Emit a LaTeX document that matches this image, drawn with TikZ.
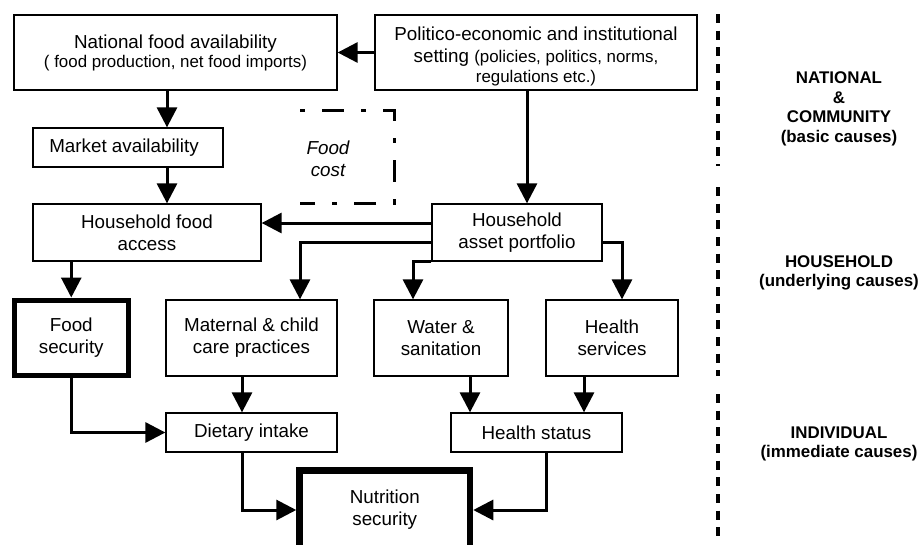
\documentclass[tikz,border=0pt]{standalone}
\usepackage{fontspec}
\setmainfont{Liberation Sans}
\usetikzlibrary{arrows.meta}

\newcommand{\mainsize}{\fontsize{18.8}{22}\selectfont}
\newcommand{\subsize}{\fontsize{16.9}{22}\selectfont}
\newcommand{\sidesize}{\fontsize{16.9}{19.5}\selectfont\bfseries}

\begin{document}
\begin{tikzpicture}[x=1pt,y=-1pt,
  box/.style={draw=black,line width=1.3pt,rectangle,inner sep=0pt,align=center,font=\mainsize},
  heavybox/.style={box,line width=5pt},
  heavierbox/.style={box,line width=6.5pt},
  arr/.style={line width=3pt,-{Triangle[length=20pt,width=20pt]}},
  levelline/.style={line width=4pt,dash pattern=on 9pt off 7.67pt},
  foodcost/.style={line width=3pt,dash pattern=on 5pt off 17pt on 22pt off 17pt},
  side/.style={align=center,font=\sidesize,inner sep=0pt}]

\useasboundingbox (0,0) rectangle (921,544);

% ---- boxes
\node[box,minimum width=323pt,minimum height=75pt] (nat) at (175.5,52.5)
  {National food availability\\[-3pt]{\subsize ( food production, net food imports)}};
\node[box,minimum width=322pt,minimum height=75pt] (pol) at (536,52.5)
  {\rule{0pt}{21pt}Politico-economic and institutional\\setting {\subsize (policies, politics, norms,}\\[-2pt]{\subsize regulations etc.)}};
\node[box,minimum width=190pt,minimum height=39pt] (mkt) at (128,147.5) {Market availability\hspace{8pt}};
\node[box,minimum width=228pt,minimum height=57pt] (hfa) at (147,232.5) {Household food\\access};
\node[box,minimum width=170pt,minimum height=57pt] (hap) at (517,232.5) {Household\\asset portfolio};
\node[heavybox,minimum width=114.5pt,minimum height=75pt] (fs) at (71.25,337.5) {Food\\security};
\node[box,minimum width=171pt,minimum height=76pt] (mcc) at (251.5,338) {Maternal \& child\\care practices};
\node[box,minimum width=134pt,minimum height=76pt] (ws) at (441,338) {Water \&\\sanitation};
\node[box,minimum width=132pt,minimum height=76pt] (hs) at (612,338) {Health\\services};
\node[box,minimum width=171pt,minimum height=39pt] (di) at (251.5,432.5) {Dietary intake};
\node[box,minimum width=171pt,minimum height=39pt] (hst) at (536.5,432.5) {Health status};
\node[heavierbox,minimum width=170.5pt,minimum height=79.5pt] (ns) at (384.75,510) {Nutrition\\security};

% ---- food cost bracket
\node[align=center,font=\mainsize\itshape,inner sep=0pt] (fc) at (328,159) {Food\\cost};
\draw[foodcost] (300,110) -- (394,110) -- (394,203) -- (300,203);

% ---- routing columns and rows
\coordinate (xa) at (167,0);
\coordinate (xb) at (527,0);
\coordinate (xc) at (300,0);
\coordinate (xd) at (413,0);
\coordinate (xe) at (622,0);
\coordinate (xf) at (242,0);
\coordinate (xg) at (470,0);
\coordinate (xh) at (584,0);
\coordinate (xi) at (546,0);
\coordinate (ya) at (0,223);
\coordinate (yb) at (0,242);

% ---- connectors
\draw[arr] (pol.west) -- (nat.east);
\draw[arr] (nat.south -| xa) -- (mkt.north -| xa);
\draw[arr] (mkt.south -| xa) -- (hfa.north -| xa);
\draw[arr] (pol.south -| xb) -- (hap.north -| xb);
\draw[arr] (hap.west |- ya) -- (hfa.east |- ya);
\draw[arr] (hap.west |- yb) -| (mcc.north -| xc);
\draw[arr] (hap.south west) -| (ws.north -| xd);
\draw[arr] (hap.east |- yb) -| (hs.north -| xe);
\draw[arr] (hfa.south -| fs.north) -- (fs.north);
\draw[arr] (mcc.south -| xf) -- (di.north -| xf);
\draw[arr] (fs.south) |- (di.west);
\draw[arr] (ws.south -| xg) -- (hst.north -| xg);
\draw[arr] (hs.south -| xh) -- (hst.north -| xh);
\draw[arr] (di.south -| xf) |- (ns.west);
\draw[arr] (hst.south -| xi) |- (ns.east);

% ---- level separator
\draw[levelline] (717.5,14) -- (717.5,166);
\draw[levelline] (717.5,187) -- (717.5,376);
\draw[levelline] (717.5,394) -- (717.5,537);

% ---- level labels
\node[side] (lnat) at (839,109) {NATIONAL\\\&\\COMMUNITY\\(basic causes)};
\node[side] (lhh) at (839,273) {HOUSEHOLD\\(underlying causes)};
\node[side] (lind) at (839,444) {INDIVIDUAL\\(immediate causes)};

\end{tikzpicture}
\end{document}
